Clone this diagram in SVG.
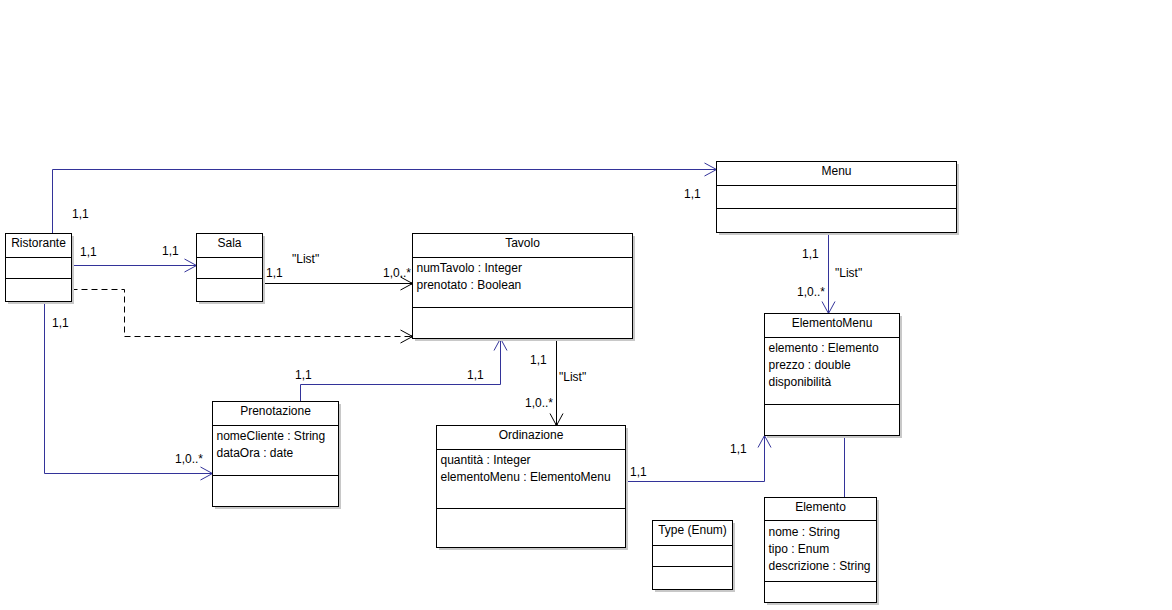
<svg xmlns="http://www.w3.org/2000/svg" width="1172" height="610" viewBox="0 0 1172 610">
<style>
text{font-family:"Liberation Sans",Arial,sans-serif;font-size:12px;fill:#000}
.t{text-anchor:middle}
.box{fill:#fff;stroke:#000;stroke-width:1}
.sh{fill:#c8c8c8}
.dv{stroke:#000;stroke-width:1}
.b{fill:none;stroke:#333399;stroke-width:1}
.k{fill:none;stroke:#000;stroke-width:1}
.d{fill:none;stroke:#000;stroke-width:1;stroke-dasharray:6 4}
</style>
<defs>
<marker id="ab" markerUnits="userSpaceOnUse" markerWidth="14" markerHeight="16" viewBox="0 0 14 16" refX="13" refY="8" orient="auto"><path d="M1,1.5 L13,8 L1,14.5" fill="none" stroke="#333399" stroke-width="1"/></marker>
<marker id="ak" markerUnits="userSpaceOnUse" markerWidth="14" markerHeight="16" viewBox="0 0 14 16" refX="13" refY="8" orient="auto"><path d="M1,1.5 L13,8 L1,14.5" fill="none" stroke="#000" stroke-width="1"/><circle cx="12.5" cy="8" r="1.3" fill="#000"/></marker>
</defs>
<rect width="1172" height="610" fill="#fff"/>

<g id="connectors">
<path class="b" d="M52.5,233.5 V169.5 H716.5" marker-end="url(#ab)"/>
<path class="b" d="M71.5,265.5 H196.5" marker-end="url(#ab)"/>
<path class="k" d="M262.5,283.5 H412.5" marker-end="url(#ak)"/>
<path class="d" d="M71.5,289.5 H124.5 V336.5 H412.5" marker-end="url(#ak)"/>
<path class="b" d="M44.5,301.5 V473.5 H212.5" marker-end="url(#ab)"/>
<path class="b" d="M300.5,401.5 V384.5 H500.5 V338.5" marker-end="url(#ab)"/>
<path class="k" d="M556.5,338.5 V425.5" marker-end="url(#ak)"/>
<path class="b" d="M625.5,481.5 H764.5 V435.5" marker-end="url(#ab)"/>
<path class="b" d="M828.5,232.5 V313.5" marker-end="url(#ab)"/>
<path class="b" d="M844.5,435.5 V497.5"/>
<text x="72" y="218">1,1</text>
<text x="684" y="198">1,1</text>
<text x="80" y="256">1,1</text>
<text x="162" y="255">1,1</text>
<text x="292" y="263">"List"</text>
<text x="266" y="277">1,1</text>
<text x="383" y="277">1,0..*</text>
<text x="52" y="327">1,1</text>
<text x="175" y="463">1,0..*</text>
<text x="295" y="379">1,1</text>
<text x="467" y="379">1,1</text>
<text x="530" y="364">1,1</text>
<text x="559" y="381">"List"</text>
<text x="525" y="407">1,0..*</text>
<text x="630" y="476">1,1</text>
<text x="730" y="453">1,1</text>
<text x="802" y="258">1,1</text>
<text x="835" y="277">"List"</text>
<text x="797" y="296">1,0..*</text>
</g>

<g id="Ristorante">
<rect class="sh" x="8" y="236" width="66" height="68"/>
<rect class="box" x="5.5" y="233.5" width="66" height="68"/>
<path class="dv" d="M5.5,257.5 H71.5 M5.5,278.5 H71.5"/>
<text class="t" x="38.5" y="247">Ristorante</text>
</g>

<g id="Sala">
<rect class="sh" x="199" y="236" width="66" height="68"/>
<rect class="box" x="196.5" y="233.5" width="66" height="68"/>
<path class="dv" d="M196.5,257.5 H262.5 M196.5,278.5 H262.5"/>
<text class="t" x="229.5" y="247">Sala</text>
</g>

<g id="Tavolo">
<rect class="sh" x="415" y="236" width="220" height="105"/>
<rect class="box" x="412.5" y="233.5" width="220" height="105"/>
<path class="dv" d="M412.5,257.5 H632.5 M412.5,307.5 H632.5"/>
<text class="t" x="522.5" y="247">Tavolo</text>
<text x="416.5" y="272">numTavolo : Integer</text>
<text x="416.5" y="289">prenotato : Boolean</text>
</g>

<g id="Menu">
<rect class="sh" x="719" y="164" width="240" height="71"/>
<rect class="box" x="716.5" y="161.5" width="240" height="71"/>
<path class="dv" d="M716.5,185.5 H956.5 M716.5,208.5 H956.5"/>
<text class="t" x="836.5" y="175">Menu</text>
</g>

<g id="ElementoMenu">
<rect class="sh" x="767" y="316" width="135" height="122"/>
<rect class="box" x="764.5" y="313.5" width="135" height="122"/>
<path class="dv" d="M764.5,337.5 H899.5 M764.5,404.5 H899.5"/>
<text class="t" x="832" y="327">ElementoMenu</text>
<text x="768.5" y="352">elemento : Elemento</text>
<text x="768.5" y="369">prezzo : double</text>
<text x="768.5" y="386">disponibilità</text>
</g>

<g id="Prenotazione">
<rect class="sh" x="215" y="404" width="126" height="105"/>
<rect class="box" x="212.5" y="401.5" width="126" height="105"/>
<path class="dv" d="M212.5,425.5 H338.5 M212.5,475.5 H338.5"/>
<text class="t" x="275.5" y="415">Prenotazione</text>
<text x="216.5" y="440">nomeCliente : String</text>
<text x="216.5" y="457">dataOra : date</text>
</g>

<g id="Ordinazione">
<rect class="sh" x="439" y="428" width="189" height="122"/>
<rect class="box" x="436.5" y="425.5" width="189" height="122"/>
<path class="dv" d="M436.5,449.5 H625.5 M436.5,508.5 H625.5"/>
<text class="t" x="531" y="439">Ordinazione</text>
<text x="440.5" y="464">quantità : Integer</text>
<text x="440.5" y="481">elementoMenu : ElementoMenu</text>
</g>

<g id="TypeEnum">
<rect class="sh" x="655" y="523" width="80" height="69"/>
<rect class="box" x="652.5" y="520.5" width="80" height="69"/>
<path class="dv" d="M652.5,545.5 H732.5 M652.5,566.5 H732.5"/>
<text class="t" x="692.5" y="534">Type (Enum)</text>
</g>

<g id="Elemento">
<rect class="sh" x="767" y="500" width="112" height="105"/>
<rect class="box" x="764.5" y="497.5" width="112" height="105"/>
<path class="dv" d="M764.5,520.5 H876.5 M764.5,581.5 H876.5"/>
<text class="t" x="820.5" y="511">Elemento</text>
<text x="768.5" y="536">nome : String</text>
<text x="768.5" y="553">tipo : Enum</text>
<text x="768.5" y="570">descrizione : String</text>
</g>
</svg>
